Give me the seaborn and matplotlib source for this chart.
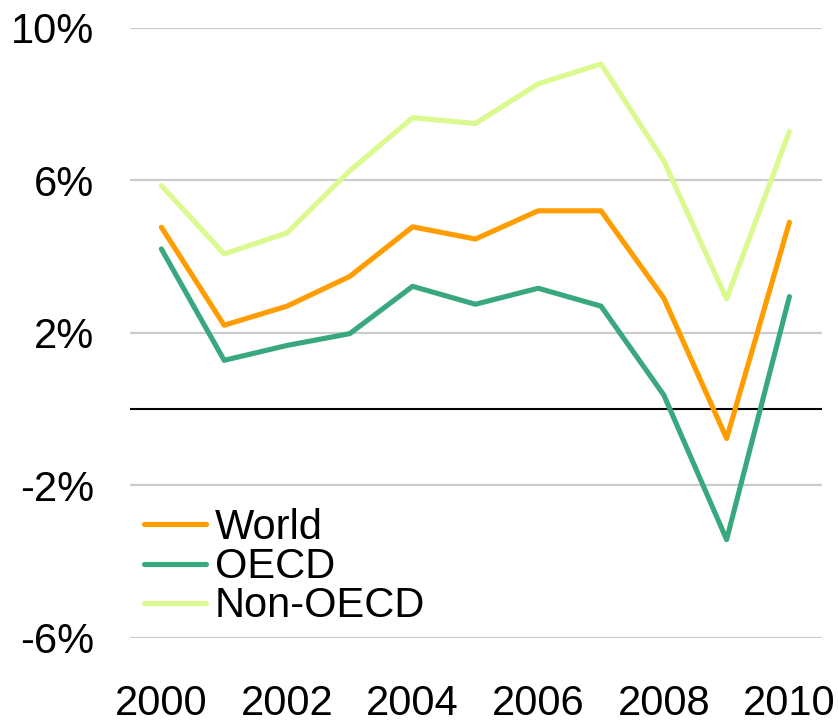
import numpy as np
import pandas as pd
import matplotlib
matplotlib.use("Agg")
import matplotlib.pyplot as plt
import seaborn as sns

years = [2000, 2001, 2002, 2003, 2004, 2005, 2006, 2007, 2008, 2009, 2010]
world = [4.77, 2.20, 2.70, 3.48, 4.78, 4.46, 5.20, 5.20, 2.91, -0.77, 4.90]
oecd = [4.20, 1.28, 1.67, 1.98, 3.22, 2.75, 3.17, 2.70, 0.37, -3.42, 2.95]
non_oecd = [5.86, 4.07, 4.62, 6.25, 7.64, 7.49, 8.53, 9.05, 6.51, 2.89, 7.28]
series_names = ["World", "OECD", "Non-OECD"]
colors = ["#FF9D00", "#3AA87E", "#DAF98F"]
y_ticks = [-6, -2, 2, 6, 10]
x_ticks = [2000, 2002, 2004, 2006, 2008, 2010]

df = pd.concat([
    pd.DataFrame({"year": years, "value": vals, "series": name})
    for name, vals in zip(series_names, [world, oecd, non_oecd])
], ignore_index=True)

sns.set_theme(style="white")
plt.rcParams['font.family'] = ['Liberation Sans', 'DejaVu Sans']
plt.rcParams['text.color'] = 'black'

fig = plt.figure(figsize=(8.38, 7.24), dpi=100)
ax = fig.add_axes([0.1551, 0.1188, 0.981 - 0.1551, 0.9617 - 0.1188])

for y in y_ticks:
    ax.axhline(y, color="#cccccc", lw=1.6, zorder=0)
ax.axhline(0, color="black", lw=1.5, zorder=1)

sns.lineplot(data=df, x="year", y="value", hue="series", hue_order=series_names,
             palette=colors, linewidth=3.7, ax=ax, legend=True, zorder=3,
             solid_capstyle="round", solid_joinstyle="round")

ax.set_xlim(1999.5, 2010.52)
ax.set_ylim(-6, 10)
ax.set_yticks(y_ticks)
ax.set_yticklabels([f"{v}%" for v in y_ticks])
ax.set_xticks(x_ticks)
ax.set_xticklabels([str(v) for v in x_ticks])
ax.tick_params(axis="y", labelsize=30, pad=26, length=0, labelcolor="black")
ax.tick_params(axis="x", labelsize=30, pad=33, length=0, labelcolor="black")
ax.set_xlabel("")
ax.set_ylabel("")
for s in ax.spines.values():
    s.set_visible(False)

leg = ax.legend(loc="lower left", bbox_to_anchor=(0.003, 0.0), frameon=False,
                fontsize=30, handlelength=1.5, handletextpad=0.2,
                labelspacing=-0.02, borderpad=0.28, borderaxespad=0.0)
for t in leg.get_texts():
    t.set_color("black")
for line in leg.get_lines():
    line.set_linewidth(3.7)
    line.set_solid_capstyle("round")

fig.savefig("out.png", dpi=100)
